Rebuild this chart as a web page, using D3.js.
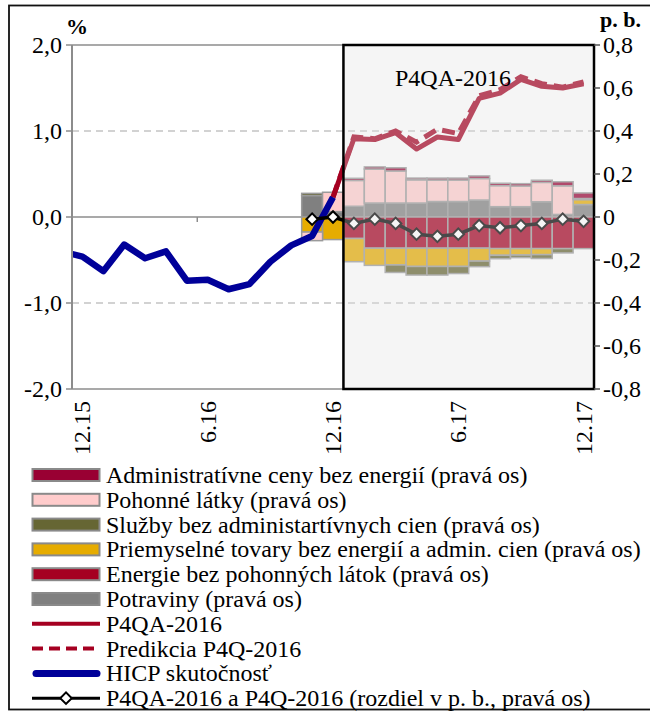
<!DOCTYPE html>
<html>
<head>
<meta charset="utf-8">
<script src="https://cdn.jsdelivr.net/npm/d3@7/dist/d3.min.js"></script>
<style>
body{margin:0;background:#fff}
</style>
</head>
<body>
<div id="plot"></div>
<script>
// months, 11.15 .. 12.17 (11.15 only feeds the clipped start of the HICP line)
var months = ['11.15','12.15','1.16','2.16','3.16','4.16','5.16','6.16','7.16','8.16','9.16','10.16','11.16','12.16',
              '1.17','2.17','3.17','4.17','5.17','6.17','7.17','8.17','9.17','10.17','11.17','12.17'];
var tickMonths = ['12.15','6.16','12.16','6.17','12.17'];

// left axis, %
var hicp = [-0.40,-0.46,-0.63,-0.32,-0.48,-0.40,-0.74,-0.73,-0.84,-0.78,-0.52,-0.33,-0.22,0.23];   // 11.15..12.16
var p4qa = [0.23,0.91,0.90,0.98,0.79,0.93,0.90,1.38,1.44,1.60,1.52,1.50,1.55];                   // 12.16..12.17
var p4q  = [0.23,0.93,0.91,1.00,0.87,1.02,0.97,1.41,1.48,1.63,1.55,1.51,1.57];

// right axis, p. b. (11.16..12.17)
var diff        = [-0.01,0.00,-0.03,-0.01,-0.03,-0.08,-0.09,-0.08,-0.04,-0.05,-0.04,-0.03,-0.01,-0.02];
var potraviny   = [0.10,0.025,0.05,0.065,0.065,0.065,0.072,0.072,0.079,0.048,0.048,0.071,0.012,0.058];
var energie     = [0,0,-0.10,-0.145,-0.145,-0.145,-0.145,-0.145,-0.145,-0.147,-0.147,-0.147,-0.147,-0.147];
var priemyselne = [-0.07,-0.105,-0.108,-0.08,-0.078,-0.085,-0.085,-0.085,-0.06,-0.031,-0.03,-0.028,0,0.023];
var sluzby      = [0.01,0,0,0,-0.035,-0.04,-0.04,-0.033,-0.026,-0.016,-0.012,-0.018,-0.02,0];
var pohonne     = [-0.04,0.09,0.12,0.158,0.149,0.108,0.10,0.10,0.10,0.098,0.096,0.09,0.133,0.005];
var admin       = [0,0,0.01,0.01,0.015,0.008,0.009,0.009,0.012,0.011,0.011,0.01,0.019,0.026];

var leftTicks = [2,1,0,-1,-2];
var rightTicks = [0.8,0.6,0.4,0.2,0,-0.2,-0.4,-0.6,-0.8];

var W = 650, H = 712;
var plotL = 72, plotR = 594, plotT = 45, plotB = 389;
var FONT = "'Liberation Serif'";

var svg = d3.select('#plot').append('svg')
    .attr('width', W)
    .attr('height', H);

function label(sel, size){
    return sel.append('text')
        .style('font-family', FONT)
        .attr('font-size', size || 24)
        .attr('fill', '#000');
}

// outer frame
svg.append('rect')
    .attr('x', 9).attr('y', 5.5)
    .attr('width', 660).attr('height', 704)
    .attr('fill', 'none')
    .attr('stroke', '#111')
    .attr('stroke-width', 1.8);

var x = d3.scaleLinear().domain([0.5, months.length - 0.5]).range([plotL, plotR]);
var yL = d3.scaleLinear().domain([-2, 2]).range([plotB, plotT]);
var yR = d3.scaleLinear().domain([-0.8, 0.8]).range([plotB, plotT]);
var step = x(1) - x(0);

function idx(m){ return months.indexOf(m); }

svg.append('clipPath').attr('id', 'clip')
    .append('rect')
    .attr('x', plotL).attr('y', plotT)
    .attr('width', plotR - plotL).attr('height', plotB - plotT);

var plot = svg.append('g');

// dashed gridlines at +-1
plot.selectAll('.grid')
    .data([1, -1])
    .enter().append('line')
    .attr('x1', plotL).attr('x2', plotR)
    .attr('y1', function(d){ return yL(d); })
    .attr('y2', function(d){ return yL(d); })
    .attr('stroke', '#c4c4c4')
    .attr('stroke-width', 1.5)
    .attr('stroke-dasharray', '7,5');

// top, bottom and zero lines
plot.selectAll('.hline')
    .data([2, 0, -2])
    .enter().append('line')
    .attr('x1', plotL).attr('x2', plotR)
    .attr('y1', function(d){ return yL(d); })
    .attr('y2', function(d){ return yL(d); })
    .attr('stroke', '#8c8c8c')
    .attr('stroke-width', 1.5);

// category ticks on the zero line, every 6 months
plot.selectAll('.xtick')
    .data(tickMonths)
    .enter().append('line')
    .attr('x1', function(d){ return x(idx(d) + 5.5); })
    .attr('x2', function(d){ return x(idx(d) + 5.5); })
    .attr('y1', yL(0)).attr('y2', yL(0) + 5)
    .attr('stroke', '#8c8c8c')
    .attr('stroke-width', 1.5);

// stacked bars
var barMonths = months.slice(12);
var keys = ['potraviny','energie','priemyselne','sluzby','pohonne','admin'];
var colors = {admin:'#990033', pohonne:'#ffcccc', sluzby:'#666633', priemyselne:'#e6ac00', energie:'#a50021', potraviny:'#808080'};
var series = {potraviny:potraviny, energie:energie, priemyselne:priemyselne, sluzby:sluzby, pohonne:pohonne, admin:admin};

var rows = barMonths.map(function(m, i){
    var r = {month: m};
    keys.forEach(function(k){ r[k] = series[k][i]; });
    return r;
});
var stacked = d3.stack().keys(keys).offset(d3.stackOffsetDiverging)(rows);

stacked.forEach(function(s){
    plot.selectAll('.bar-' + s.key)
        .data(s.filter(function(d){ return d[1] - d[0] != 0; }))
        .enter().append('rect')
        .attr('x', function(d){ return x(idx(d.data.month)) - step / 2; })
        .attr('width', step)
        .attr('y', function(d){ return yR(Math.max(d[0], d[1])); })
        .attr('height', function(d){ return Math.abs(yR(d[0]) - yR(d[1])); })
        .attr('fill', colors[s.key])
        .attr('stroke', '#9a9a9a')
        .attr('stroke-width', 1.5);
});

// lines
var lineL = d3.line()
    .x(function(d){ return x(d.i); })
    .y(function(d){ return yL(d.v); });

var hicpPts = hicp.map(function(v, i){ return {i: i, v: v}; });
var p4qaPts = p4qa.map(function(v, i){ return {i: i + 13, v: v}; });
var p4qPts  = p4q.map(function(v, i){ return {i: i + 13, v: v}; });

plot.append('path')
    .attr('d', lineL(p4qaPts))
    .attr('fill', 'none')
    .attr('stroke', '#a50021')
    .attr('stroke-width', 5)
    .attr('stroke-linejoin', 'round');

plot.append('path')
    .attr('d', lineL(p4qPts))
    .attr('fill', 'none')
    .attr('stroke', '#a50021')
    .attr('stroke-width', 5)
    .attr('stroke-dasharray', '13,7');

plot.append('path')
    .attr('d', lineL(hicpPts))
    .attr('clip-path', 'url(#clip)')
    .attr('fill', 'none')
    .attr('stroke', '#000099')
    .attr('stroke-width', 6.5)
    .attr('stroke-linejoin', 'round');

// difference line with diamonds (right axis)
var diffPts = diff.map(function(v, i){ return {i: i + 12, v: v}; });
plot.append('path')
    .attr('d', d3.line().x(function(d){ return x(d.i); }).y(function(d){ return yR(d.v); })(diffPts))
    .attr('fill', 'none')
    .attr('stroke', '#000')
    .attr('stroke-width', 3.5);

var diamond = d3.symbol().type(d3.symbolSquare).size(66);
plot.selectAll('.dm')
    .data(diffPts)
    .enter().append('path')
    .attr('d', diamond)
    .attr('transform', function(d){ return 'translate(' + x(d.i) + ',' + yR(d.v) + ') rotate(45)'; })
    .attr('fill', '#fff')
    .attr('stroke', '#000')
    .attr('stroke-width', 2);

// forecast box (semi transparent)
svg.append('rect')
    .attr('x', x(13.5)).attr('y', plotT)
    .attr('width', x(months.length - 0.5) - x(13.5))
    .attr('height', plotB - plotT)
    .attr('fill', 'rgb(225,225,225)')
    .attr('fill-opacity', 0.33)
    .attr('stroke', '#000')
    .attr('stroke-width', 2.5);

label(svg)
    .attr('x', 511).attr('y', 86)
    .attr('text-anchor', 'end')
    .text('P4QA-2016');

// left axis
svg.append('line')
    .attr('x1', plotL).attr('x2', plotL)
    .attr('y1', plotT).attr('y2', plotB)
    .attr('stroke', '#8c8c8c').attr('stroke-width', 2);

var fmt1 = function(d){ return d3.format('.1f')(d).replace('.', ',').replace('−', '-'); };
leftTicks.forEach(function(t){
    svg.append('line')
        .attr('x1', plotL - 6).attr('x2', plotL)
        .attr('y1', yL(t)).attr('y2', yL(t))
        .attr('stroke', '#8c8c8c').attr('stroke-width', 1.5);
    label(svg)
        .attr('x', 62).attr('y', yL(t) + 8)
        .attr('text-anchor', 'end')
        .text(fmt1(t));
});

// right axis
rightTicks.forEach(function(t){
    svg.append('line')
        .attr('x1', plotR).attr('x2', plotR + 6)
        .attr('y1', yR(t)).attr('y2', yR(t))
        .attr('stroke', '#555').attr('stroke-width', 1.5);
    label(svg)
        .attr('x', 603).attr('y', yR(t) + 8)
        .text(t == 0 ? '0' : fmt1(t));
});

label(svg, 22)
    .attr('x', 66).attr('y', 34)
    .attr('font-weight', 'bold')
    .text('%');
label(svg, 22)
    .attr('x', 600).attr('y', 27)
    .attr('font-weight', 'bold')
    .text('p. b.');

// x labels, rotated
tickMonths.forEach(function(m){
    label(svg)
        .attr('transform', 'translate(' + (x(idx(m)) + 8) + ',401) rotate(-90)')
        .attr('text-anchor', 'end')
        .text(m);
});

// legend
var legendItems = [
    {name:'Administratívne ceny bez energií (pravá os)', type:'box', color:colors.admin},
    {name:'Pohonné látky (pravá os)', type:'box', color:colors.pohonne},
    {name:'Služby bez administartívnych cien (pravá os)', type:'box', color:colors.sluzby},
    {name:'Priemyselné tovary bez energií a admin. cien (pravá os)', type:'box', color:colors.priemyselne},
    {name:'Energie bez pohonných látok (pravá os)', type:'box', color:colors.energie},
    {name:'Potraviny (pravá os)', type:'box', color:colors.potraviny},
    {name:'P4QA-2016', type:'line', color:'#a50021'},
    {name:'Predikcia P4Q-2016', type:'dash', color:'#a50021'},
    {name:'HICP skutočnosť', type:'thick', color:'#000099'},
    {name:'P4QA-2016 a P4Q-2016 (rozdiel v p. b., pravá os)', type:'marker', color:'#000'}
];

var legend = svg.append('g');
legendItems.forEach(function(d, i){
    var cy = 475 + i * 24.8;
    if (d.type == 'box') {
        legend.append('rect')
            .attr('x', 32.5).attr('y', cy - 6)
            .attr('width', 67).attr('height', 12)
            .attr('fill', d.color)
            .attr('stroke', '#8a8a8a').attr('stroke-width', 2);
    } else {
        var ln = legend.append('line')
            .attr('x1', d.type == 'thick' ? 36 : 32).attr('x2', d.type == 'thick' ? 97 : 100)
            .attr('y1', cy).attr('y2', cy)
            .attr('stroke', d.color);
        if (d.type == 'line') ln.attr('stroke-width', 4);
        if (d.type == 'dash') ln.attr('stroke-width', 4).attr('stroke-dasharray', '11,6');
        if (d.type == 'thick') ln.attr('stroke-width', 7).attr('stroke-linecap', 'round');
        if (d.type == 'marker') {
            ln.attr('stroke-width', 3);
            legend.append('path')
                .attr('d', diamond)
                .attr('transform', 'translate(66,' + cy + ') rotate(45)')
                .attr('fill', '#fff').attr('stroke', '#000').attr('stroke-width', 2);
        }
    }
    label(legend)
        .attr('x', 106).attr('y', cy + 8)
        .text(d.name);
});
</script>
</body>
</html>
